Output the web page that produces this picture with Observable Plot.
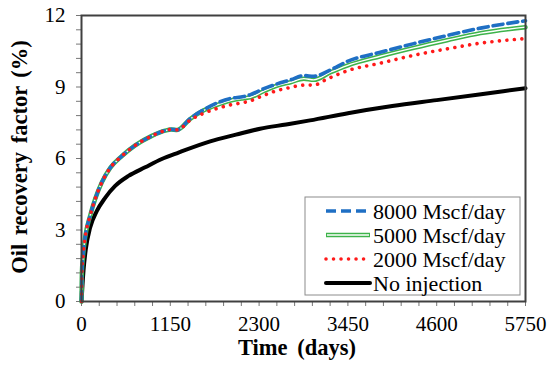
<!DOCTYPE html>
<html>
<head>
<meta charset="utf-8">
<script src="https://cdn.jsdelivr.net/npm/d3@7"></script>
<script src="https://cdn.jsdelivr.net/npm/@observablehq/plot@0.6"></script>
<style>
  html, body { margin: 0; padding: 0; background: #fff; }
  svg { display: block; }
</style>
</head>
<body>
<div id="chart"></div>
<script>
// ---- data ----
const xTickValues = [0, 1150, 2300, 3450, 4600, 5750];
const yTickValues = [0, 3, 6, 9, 12];
const xTitle = "Time (days)";
const yTitle = "Oil recovery factor (%)";
const seriesNames = ["8000 Mscf/day", "5000 Mscf/day", "2000 Mscf/day", "No injection"];

const time8000 = [0, 5, 20, 48, 112, 177, 263, 371, 522, 695, 911, 1083, 1160, 1239, 1412, 1584, 1757, 1930, 2102, 2188, 2361, 2534, 2707, 2879, 3008, 3225, 3441, 3870, 4303, 4735, 5167, 5750];
const rec8000  = [0, 1.2, 1.9, 2.7, 3.6, 4.3, 5.0, 5.6, 6.1, 6.55, 6.95, 7.17, 7.22, 7.2, 7.69, 8.05, 8.33, 8.52, 8.6, 8.68, 8.93, 9.13, 9.3, 9.48, 9.45, 9.72, 10.07, 10.46, 10.82, 11.16, 11.47, 11.78];

const time5000 = [0, 5, 20, 48, 112, 177, 263, 371, 522, 695, 911, 1083, 1160, 1239, 1412, 1584, 1757, 1930, 2102, 2188, 2361, 2534, 2707, 2879, 3008, 3225, 3441, 3870, 4303, 4735, 5167, 5750];
const rec5000  = [0, 1.2, 1.9, 2.7, 3.6, 4.3, 5.0, 5.6, 6.1, 6.55, 6.95, 7.17, 7.22, 7.2, 7.67, 8.02, 8.25, 8.43, 8.53, 8.57, 8.83, 9.06, 9.2, 9.35, 9.3, 9.62, 9.9, 10.29, 10.64, 10.96, 11.26, 11.51];

const time2000 = [0, 5, 20, 48, 112, 177, 263, 371, 522, 695, 911, 1083, 1160, 1239, 1412, 1584, 1757, 1930, 2102, 2188, 2361, 2534, 2707, 2879, 3008, 3178, 3441, 3870, 4303, 4735, 5167, 5750];
const rec2000  = [0, 1.2, 1.9, 2.7, 3.6, 4.3, 5.0, 5.6, 6.1, 6.55, 6.95, 7.17, 7.22, 7.2, 7.62, 7.9, 8.1, 8.25, 8.35, 8.42, 8.65, 8.85, 8.98, 9.08, 9.08, 9.33, 9.68, 10.0, 10.33, 10.6, 10.84, 11.03];

const timeNoInj = [0, 6, 13, 26, 56, 112, 199, 306, 436, 609, 824, 1040, 1256, 1667, 2000, 2313, 2650, 2959, 3450, 4025, 4600, 5175, 5750];
const recNoInj  = [0, 0.3, 0.7, 1.3, 2.2, 3.1, 3.8, 4.35, 4.85, 5.27, 5.63, 5.98, 6.25, 6.72, 7.0, 7.25, 7.43, 7.6, 7.9, 8.2, 8.45, 8.7, 8.95];

// ---- build tables ----
const toRows = (t, v) => t.map((d, i) => ({t: d, v: v[i]}));
const d8000 = toRows(time8000, rec8000);
const d5000 = toRows(time5000, rec5000);
const d2000 = toRows(time2000, rec2000);
const dNo = toRows(timeNoInj, recNoInj);

const colBlue = "#1f6fc4", colGreen = "#3db34a", colRed = "#ff1a1a", colBlack = "#000000";
const fontFam = "Liberation Serif";

const xMinor = d3.range(0, 26).map(i => i * 230);
const yMinor = d3.range(0, 21).map(i => +(i * 0.6).toFixed(2));
const isMajor = (d, step) => Math.abs(d / step - Math.round(d / step)) < 1e-6;

const chart = Plot.plot({
  width: 550,
  height: 373,
  marginLeft: 81,
  marginRight: 25,
  marginTop: 15,
  marginBottom: 72,
  className: "rfchart",
  style: {fontSize: "21px", color: "#000", background: "#fff"},
  x: {domain: [0, 5750]},
  y: {domain: [0, 12]},
  marks: [
    Plot.axisX({ticks: xMinor, tickSize: 5, tickPadding: 10, stroke: "#777", fill: "#000", fontSize: 21,
      tickFormat: d => isMajor(d, 1150) && xTickValues.includes(Math.round(d)) ? String(Math.round(d)) : "", label: null}),
    Plot.axisY({ticks: yMinor, tickSize: 5, tickPadding: 11, stroke: "#777", fill: "#000", fontSize: 21,
      tickFormat: d => isMajor(d, 3) && yTickValues.includes(Math.round(d)) ? String(Math.round(d)) : "", label: null}),
    Plot.line(dNo, {x: "t", y: "v", stroke: colBlack, strokeWidth: 4, curve: "monotone-x"}),
    Plot.line(d5000, {x: "t", y: "v", stroke: colGreen, strokeWidth: 4.5, curve: "monotone-x"}),
    Plot.line(d5000, {x: "t", y: "v", stroke: "#fff", strokeWidth: 1.4, curve: "monotone-x"}),
    Plot.line(d8000, {x: "t", y: "v", stroke: colBlue, strokeWidth: 3.6, strokeDasharray: "10 5", curve: "monotone-x"}),
    Plot.line(d2000, {x: "t", y: "v", stroke: colRed, strokeWidth: 3.6, strokeDasharray: "0.01 7.5", strokeLinecap: "round", curve: "monotone-x"}),
    Plot.frame({stroke: "#404040", strokeWidth: 2})
  ]
});

const svg = d3.select(chart);

// axis titles
svg.append("text")
  .attr("transform", "translate(22,157) rotate(-90)")
  .attr("text-anchor", "middle")
  .attr("dominant-baseline", "middle")
  .attr("font-weight", "bold")
  .attr("font-size", "22.5px")
  .attr("word-spacing", "3px")
  .text(yTitle);
svg.append("text")
  .attr("x", 297).attr("y", 355)
  .attr("text-anchor", "middle")
  .attr("font-weight", "bold")
  .attr("font-size", "22.5px")
  .attr("word-spacing", "4px")
  .text(xTitle);

// legend
const lg = svg.append("g");
lg.append("rect").attr("x", 305).attr("y", 197).attr("width", 215).attr("height", 98)
  .attr("fill", "#fff").attr("stroke", "#8c8c8c").attr("stroke-width", 1);
const rowsY = [211, 235, 259, 283];
const styles = [
  {stroke: colBlue, width: 3.6, dash: "10 5", cap: "butt"},
  {stroke: colGreen, width: 4.5, dash: null, cap: "butt", double: true},
  {stroke: colRed, width: 3.6, dash: "0.01 7.5", cap: "round"},
  {stroke: colBlack, width: 4, dash: null, cap: "round"}
];
seriesNames.forEach((name, i) => {
  const s = styles[i];
  const y = rowsY[i];
  const l = lg.append("line").attr("x1", 326).attr("x2", 370).attr("y1", y).attr("y2", y)
    .attr("stroke", s.stroke).attr("stroke-width", s.width).attr("stroke-linecap", s.cap);
  if (s.dash) l.attr("stroke-dasharray", s.dash);
  if (s.double) lg.append("line").attr("x1", 327).attr("x2", 369).attr("y1", y).attr("y2", y)
    .attr("stroke", "#fff").attr("stroke-width", 1.4);
  lg.append("text").attr("x", 373).attr("y", y).attr("dy", "0.35em")
    .attr("text-anchor", "start")
    .attr("font-size", "22px").text(name);
});

// serif font everywhere, set on the root and on each text
svg.attr("font-family", fontFam).style("font-family", fontFam);
svg.selectAll("text, tspan").attr("font-family", fontFam).style("font-family", fontFam, "important");
svg.selectAll("style").remove();

document.getElementById("chart").appendChild(chart);
</script>
</body>
</html>
